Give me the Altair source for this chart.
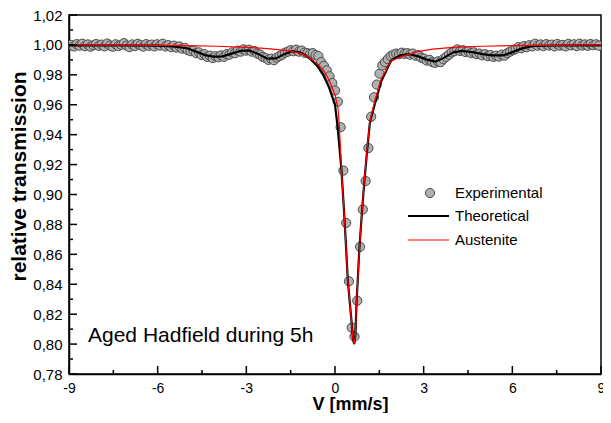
import altair as alt
import pandas as pd

# ---------------- data ----------------
exp_x = [-8.928, -8.834, -8.740, -8.646, -8.552, -8.458, -8.364, -8.270, -8.176, -8.082,
         -7.988, -7.894, -7.800, -7.706, -7.612, -7.518, -7.424, -7.330, -7.236, -7.142,
         -7.048, -6.954, -6.860, -6.766, -6.672, -6.578, -6.484, -6.390, -6.296, -6.202,
         -6.108, -6.014, -5.920, -5.826, -5.732, -5.638, -5.544, -5.450, -5.356, -5.262,
         -5.168, -5.074, -4.980, -4.886, -4.792, -4.698, -4.604, -4.510, -4.416, -4.322,
         -4.228, -4.134, -4.040, -3.946, -3.852, -3.758, -3.664, -3.570, -3.476, -3.382,
         -3.288, -3.194, -3.100, -3.006, -2.912, -2.818, -2.724, -2.630, -2.536, -2.442,
         -2.348, -2.254, -2.160, -2.066, -1.972, -1.878, -1.784, -1.690, -1.596, -1.502,
         -1.408, -1.314, -1.220, -1.126, -1.032, -0.938, -0.844, -0.750, -0.656, -0.562,
         -0.468, -0.374, -0.280, -0.186, -0.092, 0.002, 0.096, 0.190, 0.284, 0.378,
         0.472, 0.566, 0.660, 0.754, 0.848, 0.942, 1.036, 1.130, 1.224, 1.318,
         1.412, 1.506, 1.600, 1.694, 1.788, 1.882, 1.976, 2.070, 2.164, 2.258,
         2.352, 2.446, 2.540, 2.634, 2.728, 2.822, 2.916, 3.010, 3.104, 3.198,
         3.292, 3.386, 3.480, 3.574, 3.668, 3.762, 3.856, 3.950, 4.044, 4.138,
         4.232, 4.326, 4.420, 4.514, 4.608, 4.702, 4.796, 4.890, 4.984, 5.078,
         5.172, 5.266, 5.360, 5.454, 5.548, 5.642, 5.736, 5.830, 5.924, 6.018,
         6.112, 6.206, 6.300, 6.394, 6.488, 6.582, 6.676, 6.770, 6.864, 6.958,
         7.052, 7.146, 7.240, 7.334, 7.428, 7.522, 7.616, 7.710, 7.804, 7.898,
         7.992, 8.086, 8.180, 8.274, 8.368, 8.462, 8.556, 8.650, 8.744, 8.838,
         8.932]
exp_y = [1.0000, 0.9990, 1.0005, 0.9995, 1.0008, 0.9992, 1.0003, 0.9988, 0.9998, 1.0006,
         0.9994, 1.0002, 0.9990, 1.0009, 0.9996, 0.9988, 1.0004, 0.9993, 1.0001, 1.0012,
         0.9995, 0.9985, 1.0003, 0.9992, 1.0007, 0.9998, 0.9989, 1.0005, 0.9994, 1.0002,
         0.9990, 1.0004, 0.9996, 1.0008, 0.9990, 0.9998, 0.9985, 0.9995, 0.9982, 0.9990,
         0.9975, 0.9980, 0.9965, 0.9958, 0.9962, 0.9945, 0.9950, 0.9932, 0.9938, 0.9920,
         0.9928, 0.9912, 0.9925, 0.9918, 0.9930, 0.9920, 0.9938, 0.9935, 0.9950, 0.9945,
         0.9962, 0.9955, 0.9970, 0.9962, 0.9968, 0.9955, 0.9960, 0.9942, 0.9935, 0.9920,
         0.9912, 0.9900, 0.9908, 0.9898, 0.9915, 0.9925, 0.9935, 0.9948, 0.9955, 0.9965,
         0.9958, 0.9968, 0.9955, 0.9962, 0.9948, 0.9945, 0.9940, 0.9945, 0.9932, 0.9925,
         0.9885, 0.9860, 0.9830, 0.9790, 0.9745, 0.9695, 0.9620, 0.9450, 0.9160, 0.8810,
         0.8420, 0.8110, 0.8050, 0.8290, 0.8650, 0.8900, 0.9090, 0.9310, 0.9520, 0.9650,
         0.9735, 0.9808, 0.9863, 0.9885, 0.9905, 0.9925, 0.9935, 0.9942, 0.9938, 0.9948,
         0.9940, 0.9945, 0.9935, 0.9942, 0.9928, 0.9932, 0.9915, 0.9908, 0.9895, 0.9900,
         0.9885, 0.9880, 0.9890, 0.9885, 0.9905, 0.9920, 0.9935, 0.9950, 0.9958, 0.9970,
         0.9960, 0.9965, 0.9952, 0.9958, 0.9945, 0.9950, 0.9938, 0.9942, 0.9930, 0.9938,
         0.9925, 0.9932, 0.9920, 0.9928, 0.9922, 0.9935, 0.9928, 0.9945, 0.9955, 0.9965,
         0.9972, 0.9985, 0.9978, 0.9992, 0.9985, 0.9998, 0.9990, 1.0008, 0.9995, 1.0003,
         0.9992, 1.0005, 0.9996, 1.0002, 0.9990, 1.0006, 0.9995, 1.0000, 0.9990, 1.0007,
         0.9997, 1.0004, 0.9992, 1.0008, 0.9996, 1.0003, 0.9994, 1.0006, 0.9998, 1.0004,
         0.9995]

theo_x = [-9.0, -8.0, -7.0, -6.0, -5.5, -5.0, -4.7, -4.4, -4.1, -3.8, -3.5, -3.2, -2.9,
          -2.6, -2.3, -2.0, -1.7, -1.45, -1.2, -1.0, -0.8, -0.6, -0.4, -0.2, 0.0, 0.09,
          0.22, 0.33, 0.435, 0.56, 0.61, 0.65, 0.69, 0.725, 0.825, 0.915, 0.99, 1.09,
          1.18, 1.34, 1.56, 1.9, 2.2, 2.5, 2.8, 3.1, 3.4, 3.7, 4.0, 4.3, 4.7, 5.0, 5.3,
          5.7, 6.0, 6.3, 6.7, 7.5, 9.0]
theo_y = [0.9997, 0.9996, 0.9996, 0.9995, 0.9990, 0.9978, 0.9955, 0.9932, 0.9922, 0.9924,
          0.9942, 0.9960, 0.9963, 0.9940, 0.9908, 0.9910, 0.9940, 0.9958, 0.9950, 0.9932,
          0.9900, 0.9860, 0.9800, 0.9715, 0.9600, 0.9450, 0.9160, 0.8810, 0.8420, 0.8150,
          0.8030, 0.8000, 0.8060, 0.8260, 0.8640, 0.8890, 0.9080, 0.9300, 0.9480, 0.9600,
          0.9755, 0.9895, 0.9930, 0.9938, 0.9925, 0.9902, 0.9888, 0.9915, 0.9950, 0.9960,
          0.9950, 0.9938, 0.9930, 0.9930, 0.9952, 0.9975, 0.9993, 0.9996, 0.9997]

aus_x = [-9.0, -8.0, -7.0, -6.0, -5.0, -4.0, -3.0, -2.5, -2.0, -1.5, -1.2, -1.0, -0.8,
         -0.6, -0.4, -0.2, 0.0, 0.1, 0.15, 0.22, 0.33, 0.435, 0.56, 0.61, 0.65, 0.69,
         0.725, 0.825, 0.915, 0.99, 1.09, 1.18, 1.34, 1.56, 1.9, 2.3, 2.8, 3.3, 4.0,
         5.0, 6.0, 7.0, 8.0, 9.0]
aus_y = [1.0000, 0.9999, 0.9998, 0.9997, 0.9995, 0.9991, 0.9984, 0.9978, 0.9970, 0.9958,
         0.9945, 0.9930, 0.9905, 0.9875, 0.9835, 0.9765, 0.9665, 0.9580, 0.9450, 0.9160,
         0.8810, 0.8420, 0.8150, 0.8030, 0.8000, 0.8060, 0.8260, 0.8630, 0.8890, 0.9090,
         0.9310, 0.9490, 0.9620, 0.9770, 0.9895, 0.9925, 0.9955, 0.9972, 0.9984, 0.9991,
         0.9995, 0.9997, 0.9999, 1.0000]

x_major = [-9, -6, -3, 0, 3, 6, 9]
x_minor = [-7.5, -4.5, -1.5, 1.5, 4.5, 7.5]
y_major = [0.78, 0.80, 0.82, 0.84, 0.86, 0.88, 0.90, 0.92, 0.94, 0.96, 0.98, 1.00, 1.02]
y_minor = [0.79, 0.81, 0.83, 0.85, 0.87, 0.89, 0.91, 0.93, 0.95, 0.97, 0.99, 1.01]

legend_labels = ["Experimental", "Theoretical", "Austenite"]
annotation = "Aged Hadfield during 5h"
x_title = "V [mm/s]"
y_title = "relative transmission"

# ---------------- chart ----------------
W, H = 532, 359
FONT = "Liberation Sans"

xaxis = alt.Axis(values=x_major, labelExpr="'' + datum.value", ticks=False, tickSize=0,
                 grid=False, domainColor="black", domainWidth=1.5, labelFont=FONT,
                 labelFontSize=14, labelColor="black", labelPadding=7, labelFlush=False,
                 title=x_title, titleFont=FONT, titleFontSize=18, titleFontWeight="bold",
                 titleColor="black", titleX=281, titleY=35, titleBaseline="alphabetic")
yaxis = alt.Axis(values=y_major, labelExpr="replace(format(datum.value, '.2f'), '.', ',')",
                 ticks=False, tickSize=0, grid=False, domainColor="black", domainWidth=1.5,
                 labelFont=FONT, labelFontSize=15, labelColor="black", labelPadding=7,
                 labelFlush=False, title=y_title, titleFont=FONT, titleFontSize=21,
                 titleFontWeight="bold", titleColor="black", titleAngle=-90, titleX=-44,
                 titleY=161, titleBaseline="alphabetic", titleAlign="center")

xs = alt.Scale(domain=[-9, 9], nice=False, zero=False)
ys = alt.Scale(domain=[0.78, 1.02], nice=False, zero=False)
X = alt.X("v:Q", scale=xs, axis=xaxis)
Y = alt.Y("t:Q", scale=ys, axis=yaxis)

df_exp = pd.DataFrame({"v": exp_x, "t": exp_y})
df_theo = pd.DataFrame({"v": theo_x, "t": theo_y})
df_aus = pd.DataFrame({"v": aus_x, "t": aus_y})

PT = dict(shape="circle", filled=True, size=85, fill="#b0b0b0", stroke="#4a4a4a",
          strokeWidth=1, opacity=1)

points = alt.Chart(df_exp).mark_point(clip=True, **PT).encode(x=X, y=Y)
theo = alt.Chart(df_theo).mark_line(color="black", strokeWidth=2.2, clip=True).encode(x=X, y=Y)
aus = alt.Chart(df_aus).mark_line(color="#ff0000", strokeWidth=1.2, clip=True).encode(x=X, y=Y)

xmaj = alt.Chart(pd.DataFrame({"v": x_major})).mark_rule(color="black", strokeWidth=1.5).encode(
    x=X, y=alt.value(H), y2=alt.value(H - 8))
xmin = alt.Chart(pd.DataFrame({"v": x_minor})).mark_rule(color="black", strokeWidth=1.5).encode(
    x=X, y=alt.value(H), y2=alt.value(H - 4))
ymaj = alt.Chart(pd.DataFrame({"t": y_major})).mark_rule(color="black", strokeWidth=1.5).encode(
    y=Y, x=alt.value(0), x2=alt.value(8))
ymin = alt.Chart(pd.DataFrame({"t": y_minor})).mark_rule(color="black", strokeWidth=1.5).encode(
    y=Y, x=alt.value(0), x2=alt.value(4))

leg_df = pd.DataFrame({"label": legend_labels})
TXT = dict(align="left", baseline="middle", font=FONT, fontSize=15, color="black")
leg_pt = alt.Chart(leg_df.iloc[[0]]).mark_point(**PT).encode(x=alt.value(361), y=alt.value(178))
leg_black = alt.Chart(leg_df.iloc[[1]]).mark_rule(color="black", strokeWidth=2.2).encode(
    x=alt.value(339), x2=alt.value(380), y=alt.value(201))
leg_red = alt.Chart(leg_df.iloc[[2]]).mark_rule(color="#ff0000", strokeWidth=1.2).encode(
    x=alt.value(339), x2=alt.value(380), y=alt.value(225))
leg_t1 = alt.Chart(leg_df.iloc[[0]]).mark_text(**TXT).encode(
    x=alt.value(386), y=alt.value(178), text="label:N")
leg_t2 = alt.Chart(leg_df.iloc[[1]]).mark_text(**TXT).encode(
    x=alt.value(386), y=alt.value(201), text="label:N")
leg_t3 = alt.Chart(leg_df.iloc[[2]]).mark_text(**TXT).encode(
    x=alt.value(386), y=alt.value(225), text="label:N")

ann = alt.Chart(pd.DataFrame({"label": [annotation]})).mark_text(
    align="left", baseline="alphabetic", font=FONT, fontSize=21, color="black").encode(
    x=alt.value(19), y=alt.value(327), text="label:N")

chart = alt.layer(
    points, theo, aus, xmaj, xmin, ymaj, ymin,
    leg_pt, leg_black, leg_red, leg_t1, leg_t2, leg_t3, ann
).properties(
    width=W, height=H,
    padding={"left": 61, "top": 7, "right": 2, "bottom": 39},
    autosize=alt.AutoSizeParams(type="none"),
    background="white",
).configure_view(stroke="black", strokeWidth=1.5)

chart.save("out.html", embed_options={"renderer": "svg", "actions": False})
